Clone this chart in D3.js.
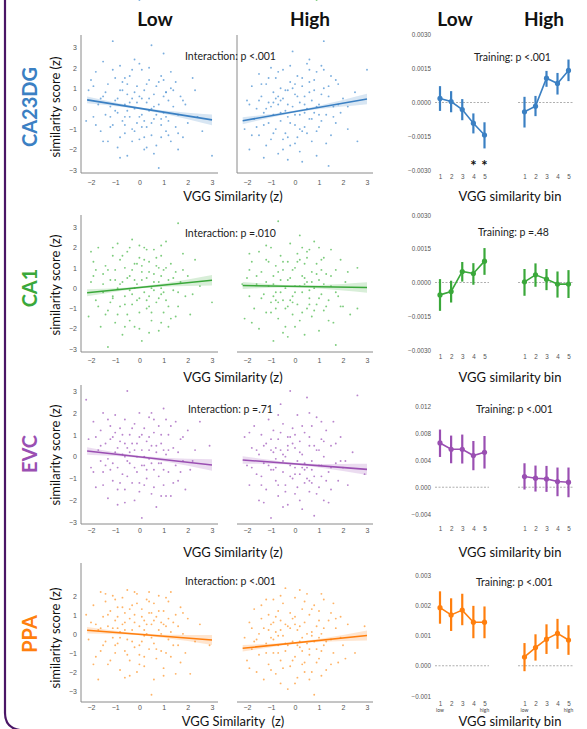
<!doctype html>
<meta charset="utf-8">
<style>
  body { margin: 0; background: #fff; }
  svg text { font-family: Lato, "Open Sans", sans-serif; }
  .tick text { font-family: "Liberation Sans", Arial, sans-serif; fill: #555; }
</style>
<svg id="fig"></svg>
<script src="https://d3js.org/d3.v7.min.js"></script>
<script>
// ---- data ----
const regions = ["CA23DG", "CA1", "EVC", "PPA"];
const regionColors = ["#3b80c3", "#3aa83a", "#9a4fb2", "#ff7f0e"];
const pointColors = ["#5a9ad6", "#5cbf5c", "#a866c0", "#ffa040"];
const interactionP = ["Interaction: p <.001", "Interaction: p =.010", "Interaction: p =.71", "Interaction: p <.001"];
const trainingP = ["Training: p <.001", "Training: p =.48", "Training: p <.001", "Training: p <.001"];
const groups = ["Low", "High"];
const scatterTicksX = [-2, -1, 0, 1, 2, 3];
const scatterTicksY = [[-3,-2,-1,0,1,2,3], [-3,-2,-1,0,1,2,3], [-3,-2,-1,0,1,2,3], [-3,-2,-1,0,1,2]];
const rightTicks = [
  [-0.003, -0.0015, 0, 0.0015, 0.003],
  [-0.003, -0.0015, 0, 0.0015, 0.003],
  [-0.004, 0, 0.004, 0.008, 0.012],
  [-0.001, 0, 0.001, 0.002, 0.003]
];
const rightFormats = [".4f", ".4f", ".3f", ".3f"];
const bins = [1, 2, 3, 4, 5];

// regression fits [x0, y0, x1, y1]
const fitLow  = [[-2.16, 0.43, 3, -0.55], [-2.16, -0.23, 3, 0.39], [-2.16, 0.26, 3, -0.38], [-2.16, 0.19, 3, -0.32]];
const fitHigh = [[-2.18, -0.59, 3, 0.47], [-2.18, 0.13, 3, 0.03], [-2.18, -0.15, 3, -0.58], [-2.18, -0.76, 3, -0.09]];
const ciX    = [-2.2, -1.5, -1, -0.5, 0, 0.5, 1, 1.5, 2, 2.5, 3];
const ciHalf = [0.17, 0.12, 0.09, 0.06, 0.05, 0.06, 0.08, 0.12, 0.16, 0.21, 0.26];

// binned means and error bars
const binMeanLow = [
  [0.00018, 0.00004, -0.00031, -0.00091, -0.00143],
  [-0.00055, -0.0004, 0.00049, 0.0004, 0.00095],
  [0.00654, 0.00561, 0.00561, 0.00468, 0.00517],
  [0.00192, 0.00168, 0.00184, 0.00144, 0.00144]
];
const binLoLow = [
  [-0.00037, -0.00043, -0.00078, -0.00136, -0.00202],
  [-0.00126, -0.00089, 0.00004, -0.0001, 0.00034],
  [0.00447, 0.00354, 0.0035, 0.00251, 0.00276],
  [0.00139, 0.00115, 0.00134, 0.00091, 0.00091]
];
const binHiLow = [
  [0.00072, 0.0005, 0.00015, -0.00048, -0.00087],
  [0.00015, 0.00008, 0.00091, 0.00086, 0.00153],
  [0.00852, 0.00763, 0.00778, 0.00683, 0.00757],
  [0.00246, 0.00223, 0.00238, 0.00198, 0.00196]
];
const binMeanHigh = [
  [-0.00041, -0.00016, 0.00107, 0.00084, 0.00141],
  [0.00003, 0.00034, 0.00015, -0.00007, -0.00007],
  [0.00158, 0.00133, 0.00123, 0.00084, 0.00074],
  [0.00029, 0.0006, 0.00088, 0.00107, 0.00085]
];
const binLoHigh = [
  [-0.0011, -0.0006, 0.00069, 0.00035, 0.00094],
  [-0.00059, -0.00019, -0.00034, -0.00067, -0.00069],
  [-0.00034, -0.00064, -0.00069, -0.00133, -0.00148],
  [-0.00018, 0.00017, 0.00039, 0.00056, 0.00036]
];
const binHiHigh = [
  [0.00025, 0.00029, 0.00139, 0.0013, 0.00189],
  [0.0006, 0.00085, 0.0006, 0.00049, 0.00055],
  [0.00354, 0.0032, 0.00315, 0.00291, 0.00291],
  [0.00075, 0.00104, 0.00137, 0.00155, 0.00134]
];
const sigBinsLow = [[4, 5], [], [], []];

// scatter clouds, "x y" pairs (outer spread)
const ptsLow = [
"-2.1 0.9,-1.9 -0.4,-1.8 1.8,-1.7 0.2,-1.6 -1.1,-1.5 2.3,-1.5 0.6,-1.4 -0.3,-1.3 1.2,-1.3 -1.6,-1.2 0.1,-1.1 3.3,-1.1 -0.8,-1.0 1.5,-1.0 0.4,-0.9 -0.2,-0.9 -1.9,-0.8 0.9,-0.8 2.1,-0.7 -0.6,-0.7 1.3,-0.6 0.2,-0.6 -1.2,-0.5 0.7,-0.5 -2.3,-0.4 1.6,-0.4 -0.4,-0.3 0.5,-0.3 -1.0,-0.2 2.4,-0.2 0.0,-0.1 -0.7,-0.1 1.1,0.0 -1.5,0.0 0.6,0.1 1.9,0.1 -0.3,0.2 0.9,0.2 -2.0,0.3 0.3,0.3 -0.9,0.4 1.4,0.4 -0.1,0.5 3.1,0.5 -1.3,0.6 0.7,0.6 -0.5,0.7 1.1,0.7 -1.8,0.8 -2.9,0.8 0.2,0.9 -0.8,0.9 1.6,1.0 2.7,1.0 -0.2,1.1 -1.1,1.1 0.8,1.2 -0.6,1.3 1.0,1.3 -1.6,1.4 0.1,1.5 -0.9,1.5 1.3,1.6 -0.3,1.7 0.6,1.8 -1.4,1.9 0.2,2.0 -0.7,2.2 1.5,2.4 -0.4,2.6 -1.1,3.0 -2.3,-2.2 -0.6,-1.9 1.1,0.0 2.2,0.5 0.0,-0.5 -0.1,0.2 -1.4,-1.2 -0.9,1.2 0.4",
"-2.1 -1.4,-2.0 0.3,-1.9 1.3,-1.8 -0.6,-1.7 2.0,-1.6 -1.9,-1.5 0.7,-1.5 -0.2,-1.4 1.1,-1.3 -1.1,-1.3 -2.9,-1.2 0.4,-1.1 1.6,-1.1 -0.5,-1.0 -1.7,-1.0 0.9,-0.9 0.0,-0.9 2.2,-0.8 -0.9,-0.8 1.4,-0.7 0.3,-0.7 -2.3,-0.6 1.0,-0.6 -0.4,-0.5 1.8,-0.5 -1.3,-0.4 0.6,-0.4 -0.1,-0.3 2.4,-0.3 -0.8,-0.2 1.2,-0.2 -1.9,-0.1 0.2,-0.1 -0.6,0.0 1.5,0.0 -1.2,0.1 0.8,0.1 -2.6,0.2 -0.2,0.2 2.0,0.3 0.5,0.3 -1.0,0.4 1.3,0.4 -0.4,0.5 0.0,0.5 -1.6,0.6 1.9,0.6 0.7,0.7 -0.7,0.7 1.1,0.8 -2.1,0.8 0.3,0.9 1.6,0.9 -0.3,1.0 -1.2,1.0 0.9,1.1 2.3,1.1 -0.6,1.2 0.4,1.3 -1.5,1.3 1.2,1.4 -0.1,1.5 0.8,1.6 3.2,1.6 -0.9,1.7 0.3,1.8 1.7,1.9 -0.4,2.0 0.6,2.1 -1.3,2.3 1.4,2.5 0.1,3.0 -0.7,-1.8 0.9,-0.2 0.4,0.4 -2.2,1.2 -1.9,-1.4 -1.3,0.9 0.0,0.0 2.1",
"-2.2 2.6,-2.1 0.8,-2.0 -0.5,-1.9 1.6,-1.8 -1.4,-1.7 0.3,-1.6 1.2,-1.5 -0.7,-1.5 2.0,-1.4 0.6,-1.3 -1.9,-1.3 -0.1,-1.2 1.4,-1.1 0.9,-1.1 -1.1,-1.0 0.2,-1.0 1.9,-0.9 -0.5,-0.9 -2.2,-0.8 0.7,-0.8 1.3,-0.7 -0.8,-0.7 0.1,-0.6 1.7,-0.6 -1.5,-0.5 3.0,-0.5 0.4,-0.4 -0.3,-0.4 1.0,-0.3 -1.2,-0.3 0.6,-0.2 -2.0,-0.2 1.5,-0.1 0.0,-0.1 -0.7,0.0 0.9,0.0 -1.6,0.1 -2.8,0.1 0.3,0.2 1.3,0.2 -0.4,0.3 -1.0,0.3 0.7,0.4 1.8,0.4 -0.1,0.5 -1.7,0.5 0.5,0.6 1.1,0.6 -0.6,0.7 -2.3,0.7 0.2,0.8 1.4,0.8 -0.9,0.9 0.6,0.9 -0.3,1.0 2.2,1.0 -1.3,1.1 0.1,1.2 -0.7,1.2 1.0,1.3 -1.8,1.4 0.4,1.5 -0.4,1.5 1.6,1.6 -1.1,1.7 0.8,1.8 -0.2,1.9 -1.5,2.0 1.2,2.1 -0.6,2.3 0.3,2.5 1.6,2.9 0.5,-1.6 -0.2,-0.6 0.0,0.2 -1.3,1.1 1.7,-1.2 -0.6,0.5 2.0",
"-2.2 1.0,-2.1 -0.3,-2.0 0.6,-1.9 1.5,-1.8 -1.2,-1.7 -2.4,-1.7 0.2,-1.6 2.2,-1.5 0.9,-1.5 -0.6,-1.4 1.7,-1.3 -1.6,-1.3 0.4,-1.2 1.2,-1.1 -0.2,-1.1 2.0,-1.0 -1.0,-1.0 0.7,-0.9 1.4,-0.9 -0.5,-0.8 0.1,-0.8 -1.9,-0.7 1.9,-0.7 0.5,-0.6 -0.9,-0.6 1.1,-0.5 2.3,-0.5 -0.3,-0.4 0.8,-0.4 -1.4,-0.3 1.5,-0.3 0.2,-0.2 -0.7,-0.2 1.0,-0.1 2.1,-0.1 -2.0,0.0 0.4,0.0 -1.1,0.1 1.3,0.1 -0.4,0.2 0.7,0.2 -1.7,0.3 1.8,0.3 0.0,0.4 -0.8,0.4 1.1,0.5 -3.2,0.5 0.5,0.6 1.6,0.6 -0.5,0.7 -1.3,0.7 0.9,0.8 0.2,0.8 2.0,0.9 -0.9,1.0 1.2,1.0 -1.8,1.1 0.4,1.2 -0.3,1.2 1.7,1.3 -1.2,1.4 0.6,1.5 -2.1,1.5 1.0,1.6 -0.6,1.7 1.4,1.8 0.0,1.9 -1.0,2.0 0.8,2.1 -2.1,2.3 -0.4,2.5 0.5,2.9 -0.6,-1.6 -0.9,-0.4 -2.2,0.9 0.6,1.3 2.2,-1.0 1.8,0.2 -0.1"
];
const ptsHigh = [
"-2.1 -1.0,-2.0 0.4,-1.9 -2.0,-1.8 1.1,-1.7 -0.5,-1.6 0.0,-1.5 1.7,-1.5 -1.3,-1.4 0.6,-1.3 -0.2,-1.3 -2.4,-1.2 1.2,-1.1 -0.7,-1.1 0.3,-1.0 2.0,-1.0 -1.5,-0.9 0.8,-0.9 -0.3,-0.8 1.5,-0.8 -1.0,-0.7 0.2,-0.7 -2.2,-0.6 1.0,-0.6 -0.6,-0.5 0.5,-0.5 1.9,-0.4 -0.1,-0.4 -1.2,-0.3 0.9,-0.3 -0.4,-0.2 1.3,-0.2 -1.8,-0.1 2.8,-0.1 0.1,0.0 -0.8,0.0 0.7,0.1 1.6,0.1 -1.4,0.2 0.3,0.2 -0.3,0.3 1.1,0.3 -2.6,0.4 0.6,0.4 -0.9,0.5 2.2,0.5 0.0,0.6 -0.5,0.6 1.3,0.7 0.4,0.7 -1.6,0.8 0.9,0.8 -0.2,0.9 1.8,0.9 -1.1,1.0 0.2,1.1 -0.6,1.2 3.3,1.2 1.0,1.3 -0.3,1.4 -2.8,1.4 0.6,1.5 1.6,1.5 -1.3,1.6 0.1,1.7 -0.7,1.8 1.2,1.9 -0.2,2.0 0.5,2.2 -1.0,2.5 0.8,2.6 -1.6,3.0 1.9,-1.6 -0.9,-0.3 -2.5,0.6 2.4,1.1 2.1,-1.2 0.0,0.0 1.2,0.3 -1.1,-0.7 0.6",
"-2.1 -1.5,-2.0 0.5,-1.9 -0.4,-1.8 1.3,-1.7 -1.0,-1.6 0.2,-1.5 1.8,-1.5 -2.0,-1.4 0.8,-1.3 -0.3,-1.2 1.4,-1.2 -1.2,-1.1 0.1,-1.0 2.0,-1.0 -0.7,-0.9 0.6,-0.9 -2.6,-0.8 1.1,-0.8 -0.2,-0.7 3.3,-0.7 -1.5,-0.6 0.4,-0.6 1.6,-0.5 -0.6,-0.5 0.9,-0.4 -1.9,-0.4 0.0,-0.3 1.3,-0.3 -0.9,-0.2 2.2,-0.2 0.5,-0.1 -0.4,-0.1 -1.3,0.0 1.0,0.0 0.1,0.1 -0.8,0.1 1.7,0.2 2.6,0.2 -1.6,0.3 0.6,0.3 -0.2,0.4 1.2,0.4 -2.3,0.5 0.3,0.5 -1.0,0.6 1.9,0.6 -0.5,0.7 0.8,0.7 -1.4,0.8 0.0,0.8 2.3,0.9 -0.8,0.9 1.2,1.0 0.4,1.0 -2.1,1.1 -0.3,1.2 1.5,1.2 -1.1,1.3 0.7,1.4 -0.6,1.5 1.9,1.5 0.1,1.6 -1.7,1.7 -2.8,1.7 0.9,1.8 -0.4,1.9 1.4,2.0 -0.9,2.1 0.3,2.3 -1.3,2.6 1.0,2.6 -1.0,-1.9 0.9,-0.8 -1.0,0.3 2.0,1.1 0.9,-0.3 -2.4,0.6 -0.1",
"-2.1 0.9,-2.0 -0.4,-1.9 -1.3,-1.8 0.4,-1.7 1.4,-1.6 -0.8,-1.5 0.1,-1.5 -2.0,-1.4 1.0,-1.3 -0.3,-1.2 -1.5,-1.2 0.6,-1.1 1.7,-1.0 -0.6,-1.0 -2.8,-0.9 0.2,-0.9 1.2,-0.8 -1.1,-0.8 -0.1,-0.7 0.8,-0.7 -1.8,-0.6 2.4,-0.6 0.3,-0.5 -0.7,-0.5 1.5,-0.4 -1.3,-0.4 0.0,-0.3 0.9,-0.3 -2.2,-0.2 3.0,-0.2 -0.4,-0.1 1.3,-0.1 -1.0,0.0 0.4,0.0 -1.7,0.1 -0.2,0.1 1.9,0.2 -0.8,0.2 0.7,0.3 -2.4,0.3 0.1,0.4 1.1,0.4 -1.2,0.5 2.7,0.5 -0.5,0.6 0.5,0.6 -1.6,0.7 1.4,0.7 -0.2,0.8 -2.7,0.8 -0.9,0.9 0.3,0.9 1.8,1.0 -1.4,1.0 -0.4,1.1 0.8,1.2 -2.0,1.2 0.0,1.3 1.2,1.4 -0.7,1.5 0.5,1.5 -1.5,1.6 1.6,1.7 -0.3,1.8 -1.1,1.9 0.9,2.0 -0.5,2.2 -1.3,2.4 0.2,2.6 2.8,2.9 -0.8,-1.4 -0.9,-0.3 0.5,0.4 -0.6,1.1 -0.9,0.0 1.0,-0.8 -0.5,0.6 -1.1",
"-2.1 -0.2,-2.0 -1.4,-1.9 0.6,-1.8 -0.8,-1.7 1.3,-1.6 -2.0,-1.5 0.0,-1.5 -1.1,-1.4 1.5,-1.3 0.3,-1.3 -2.4,-1.2 -0.5,-1.1 1.0,-1.1 -1.6,-1.0 0.5,-1.0 -0.2,-0.9 1.8,-0.9 -1.0,-0.8 0.1,-0.8 -2.1,-0.7 1.2,-0.7 -0.6,-0.6 0.7,-0.6 -1.4,-0.5 1.6,-0.5 -0.1,-0.4 2.4,-0.4 -0.9,-0.3 -2.9,-0.3 0.4,-0.2 1.1,-0.2 -1.7,-0.1 -0.4,-0.1 0.8,0.0 1.9,0.0 -1.2,0.1 0.2,0.1 -2.3,0.2 2.3,0.2 -0.7,0.3 1.3,0.3 -0.2,0.4 0.6,0.4 -1.5,0.5 2.1,0.5 -0.5,0.6 -1.1,0.6 1.0,0.7 0.1,0.7 -2.0,0.8 -3.2,0.8 1.5,0.9 -0.8,0.9 0.4,1.0 1.2,1.0 -1.3,1.1 0.0,1.2 -0.6,1.2 1.8,1.3 -1.9,1.4 0.7,1.5 -0.3,1.5 1.1,1.6 -1.0,1.7 0.3,1.8 -1.5,1.9 0.9,2.0 -0.6,2.2 0.5,2.5 -1.0,2.9 0.4,-1.7 -0.4,-0.6 -2.6,0.3 -0.9,1.1 2.1,-0.9 0.6,0.0 0.5"
];
// denser core of each cloud
const coreLow = [
"-1.4 0.8,-1.2 -0.4,-1.0 -0.1,-0.9 0.5,-0.8 -1.4,-0.7 0.9,-0.6 -0.8,-0.5 1.2,-0.4 0.3,-0.3 -1.6,-0.2 0.8,-0.1 0.3,0.0 -0.4,0.1 0.5,0.2 -0.6,0.3 1.2,0.4 0.5,0.5 -0.7,0.6 0.1,0.7 -0.3,0.8 1.3,0.9 -1.4,1.0 0.6,1.1 -0.4,1.2 -1.3,1.4 0.9,1.6 -1.2,1.8 0.4,-1.6 0.5,-1.8 -0.8,-2.0 1.4,-1.1 1.9,-0.3 1.9,0.4 2.0,1.3 1.8,-0.8 -2.4,0.6 -2.2,1.6 -2.0,-1.5 -1.6,2.3 0.9,-0.6 1.5,0.1 -0.9,-0.2 -1.1,0.3 -1.9,0.9 -0.5,1.0 1.4,-0.6 -0.4,1.1 0.8,0.0",
"-1.5 0.2,-1.3 0.9,-1.2 -0.7,-1.0 0.4,-0.9 -1.3,-0.8 0.2,-0.7 1.6,-0.6 -0.8,-0.5 0.5,-0.4 -1.6,-0.3 0.9,-0.2 0.0,-0.1 1.2,0.0 -0.5,0.1 0.4,0.2 1.4,0.3 -0.6,0.4 0.8,0.5 -1.2,0.6 0.3,0.7 1.5,0.8 -0.5,0.9 0.6,1.0 -0.2,1.1 1.0,1.2 -0.9,1.4 0.5,1.6 -0.2,1.8 0.9,-1.7 -0.9,-1.9 0.6,-1.1 2.0,-0.4 2.0,0.3 1.9,0.9 2.1,-0.6 -1.9,0.0 -2.0,0.9 -1.7,1.5 -1.4,2.2 -0.3,-2.0 1.8,-1.1 -0.4,0.1 1.1,0.6 -0.1,-0.3 -0.3,0.8 1.0,0.4 -0.9",
"-1.6 0.5,-1.4 -0.4,-1.2 0.8,-1.1 -0.3,-1.0 1.1,-0.9 0.4,-0.8 -1.2,-0.7 1.0,-0.6 0.6,-0.5 -0.9,-0.4 0.2,-0.3 1.3,-0.2 -0.5,-0.1 0.6,0.0 -1.2,0.1 1.0,0.2 0.0,0.3 -0.6,0.4 0.9,0.5 -0.3,0.6 -1.4,0.7 0.5,0.8 -0.3,0.9 1.0,1.0 -0.6,1.1 -1.8,1.2 0.3,1.4 -1.2,1.6 0.2,1.8 0.9,-1.8 0.9,-1.9 -0.7,-1.3 1.7,-0.6 -2.1,0.0 2.0,0.6 1.7,0.9 -1.8,1.3 1.4,1.7 -0.7,2.2 -0.2,-1.5 -1.3,-0.9 -1.5,-0.2 0.3,0.4 0.3,1.0 0.3,-0.5 -0.2,0.1 -0.4",
"-1.6 0.3,-1.4 -0.4,-1.3 1.0,-1.1 0.3,-1.0 -0.6,-0.9 0.9,-0.8 -0.2,-0.7 1.4,-0.6 0.2,-0.5 -1.1,-0.4 1.3,-0.3 -0.4,-0.2 0.6,-0.1 1.6,0.0 -0.6,0.1 0.9,0.2 -1.2,0.3 0.5,0.4 1.7,0.5 -0.2,0.6 0.7,0.7 -0.8,0.8 1.2,0.9 0.0,1.0 0.5,1.1 -1.0,1.2 0.8,1.4 -0.6,1.6 0.4,1.8 1.1,-1.8 0.5,-1.9 -1.6,-1.2 -1.4,-0.6 -2.3,0.0 -1.6,0.6 -2.4,1.0 -2.2,1.7 -1.5,-1.4 2.1,-0.2 2.2,0.4 2.2,1.1 1.9,-0.9 0.3,0.2 0.2,0.5 1.1,-0.6 0.6,1.3 0.1"
];
const coreHigh = [
"-1.5 0.4,-1.3 -0.8,-1.1 1.5,-1.0 0.1,-0.9 -1.2,-0.8 0.5,-0.7 1.8,-0.6 -0.2,-0.5 -1.5,-0.4 0.9,-0.3 0.2,-0.2 -0.7,-0.1 1.0,0.0 -0.3,0.1 0.6,0.2 -1.0,0.3 1.5,0.4 0.2,0.5 -1.2,0.6 0.8,0.7 -0.5,0.8 1.4,0.9 0.1,1.0 -0.9,1.1 0.7,1.3 -1.7,1.4 1.1,1.6 -0.4,1.8 0.2,-1.8 -1.3,-1.9 0.2,-1.2 -1.8,-0.5 -2.0,0.2 -2.1,0.9 -2.3,1.2 1.9,0.6 1.9,-0.2 2.1,-1.4 1.2,2.2 0.1,1.7 1.4,-0.9 0.3,0.0 -1.7,-0.6 0.4,-0.3 -1.4,0.4 -0.2,1.0 -0.3",
"-1.6 0.6,-1.4 -0.5,-1.2 0.3,-1.1 1.3,-1.0 -1.2,-0.9 0.2,-0.8 -0.6,-0.7 0.8,-0.6 -0.2,-0.5 1.3,-0.4 -1.0,-0.3 0.4,-0.2 -0.6,-0.1 0.9,0.0 -0.2,0.1 1.3,0.2 0.1,0.3 -1.2,0.4 0.5,0.5 1.5,0.6 -0.8,0.7 0.3,0.8 -1.1,0.9 0.7,1.0 -0.5,1.1 1.4,1.2 0.2,1.3 -0.9,1.5 0.6,1.7 -0.2,1.9 -0.9,-1.8 -1.7,-1.9 1.7,-1.2 2.1,-0.5 -2.2,0.0 -1.9,0.5 1.8,1.0 2.0,1.4 -1.6,-2.2 0.2,2.2 0.8,-0.9 -0.4,0.2 1.4,-0.1 -0.7,-0.7 -0.7,0.4 0.2,0.9",
"-1.6 0.3,-1.4 -1.3,-1.3 0.5,-1.1 -0.4,-1.0 0.8,-0.9 -0.6,-0.8 0.4,-0.7 -1.3,-0.6 1.1,-0.5 -0.2,-0.4 -1.6,-0.3 0.3,-0.2 -0.9,-0.1 0.6,0.0 -0.5,0.1 -1.4,0.2 0.2,0.3 1.4,0.4 -0.3,0.5 -1.0,0.6 0.9,0.7 -0.6,0.8 0.5,0.9 -1.7,1.0 0.3,1.1 -0.4,1.2 0.7,1.3 -1.1,1.5 -0.5,1.7 0.6,1.9 -0.2,-1.8 -0.5,-1.9 1.1,-1.3 -2.1,-0.5 -2.3,0.2 -2.0,0.6 2.0,1.1 1.6,-0.7 1.9,1.4 -2.1,2.1 -0.2,0.0 -0.8,-0.5 0.1,0.3 -0.5,0.7 -1.2,-1.0 0.3,-0.2 0.9",
"-1.6 -0.3,-1.4 0.8,-1.2 -1.0,-1.1 0.2,-1.0 -1.9,-0.9 -0.3,-0.8 0.9,-0.7 -1.0,-0.6 0.2,-0.5 -1.8,-0.4 0.5,-0.3 -0.6,-0.2 0.3,-0.1 -1.4,0.0 0.9,0.1 -0.6,0.2 0.4,0.3 -1.6,0.4 1.7,0.5 0.0,0.6 -0.8,0.7 1.3,0.8 -0.4,0.9 -1.5,1.0 0.7,1.1 -0.9,1.2 0.3,1.3 -0.4,1.5 -1.6,1.7 0.8,1.9 -0.2,-1.8 0.3,-1.9 -1.8,-1.2 1.8,-0.6 2.0,0.0 -2.6,0.6 -2.4,1.1 -2.2,1.6 1.6,2.1 -1.3,-0.4 -0.5,0.2 -0.4,0.7 -0.1,-0.7 -0.1,1.0 -0.2,0.4 -2.0"
];

// ---- layout ----
const layout = [
  { yTop: 35,  xAxisY: 173, yAt: [170, 47.3],  xTickBase: 185,   xLabelBase: 201,   interBase: 60,  rRange: [170.7, 34.3], binBase: 179,   trainX: 474, trainBase: 61,  regionY: 107, yLabelY: 107, highAxis: true },
  { yTop: 215, xAxisY: 352, yAt: [349, 227.3], xTickBase: 363,   xLabelBase: 382,   interBase: 237, rRange: [350, 215],    binBase: 359,   trainX: 478, trainBase: 236, regionY: 288, yLabelY: 285, highAxis: false },
  { yTop: 385, xAxisY: 524, yAt: [522.3, 391], xTickBase: 533.5, xLabelBase: 557,   interBase: 413, rRange: [514.3, 406],  binBase: 531.5, trainX: 476, trainBase: 413, regionY: 454, yLabelY: 455, highAxis: false },
  { yTop: 563, xAxisY: 702, yAt: [691, 576.7], xTickBase: 710.5, xLabelBase: 725.5, interBase: 585, rRange: [696, 575],    binBase: 706.5, trainX: 476, trainBase: 586, regionY: 634, yLabelY: 638, highAxis: false }
];
const panelX = [{ axis: 81, right: 218, at: [91, 212] }, { axis: 237, right: 373, at: [247, 367] }];
const binX = [[440, 484.5], [524.5, 568.5]];
const zeroLine = [[435, 489], [518, 573]];

const W = 587, H = 729;
const svg = d3.select("#fig").attr("width", W).attr("height", H);

// border on the left
svg.append("path")
  .attr("d", "M5,0 V713 Q5,728 20,730")
  .attr("fill", "none").attr("stroke", "#4a1666").attr("stroke-width", 2.2);

// column headers
[["Low", 155], ["High", 310], ["Low", 455], ["High", 544]].forEach(h => {
  svg.append("text").attr("x", h[1]).attr("y", 26).attr("text-anchor", "middle")
    .attr("font-size", 19).attr("font-weight", 700).attr("fill", "#111").text(h[0]);
});

function parsePts(s) {
  return s.split(",").map(p => p.trim().split(" ").map(Number));
}

regions.forEach((reg, r) => {
  const L = layout[r];
  const col = regionColors[r];
  const y = d3.scaleLinear().domain([-3, 3]).range(L.yAt);

  // region label + y label
  svg.append("text")
    .attr("transform", `translate(36.5,${L.regionY}) rotate(-90)`)
    .attr("text-anchor", "middle").attr("font-size", 20).attr("font-weight", 700)
    .attr("fill", col).text(reg);
  svg.append("text")
    .attr("transform", `translate(60,${L.yLabelY}) rotate(-90)`)
    .attr("text-anchor", "middle").attr("font-size", 13).attr("fill", "#111")
    .text("similarity score (z)");

  groups.forEach((g, gi) => {
    const P = panelX[gi];
    const x = d3.scaleLinear().domain([-2, 3]).range(P.at);
    const pg = svg.append("g");

    // points
    const pts = gi === 0 ? parsePts(ptsLow[r]).concat(parsePts(coreLow[r]))
                         : parsePts(ptsHigh[r]).concat(parsePts(coreHigh[r]));
    pg.selectAll("circle.pt").data(pts).enter().append("circle")
      .attr("class", "pt")
      .attr("cx", d => x(d[0])).attr("cy", d => y(d[1]))
      .attr("r", 0.95).attr("fill", pointColors[r]).attr("opacity", 0.8);

    // CI band + fit line
    const f = gi === 0 ? fitLow[r] : fitHigh[r];
    const slope = (f[3] - f[1]) / (f[2] - f[0]);
    const fy = xv => f[1] + slope * (xv - f[0]);
    const band = ciX.map((xv, i) => [Math.max(xv, f[0]), ciHalf[i]]);
    pg.append("path")
      .attr("d", d3.area().x(d => x(d[0])).y0(d => y(fy(d[0]) - d[1])).y1(d => y(fy(d[0]) + d[1]))(band))
      .attr("fill", col).attr("opacity", 0.2);
    pg.append("line")
      .attr("x1", x(f[0])).attr("y1", y(f[1])).attr("x2", x(f[2])).attr("y2", y(f[3]))
      .attr("stroke", col).attr("stroke-width", 1.6);

    // axes
    pg.append("line").attr("x1", P.axis).attr("x2", P.right)
      .attr("y1", L.xAxisY).attr("y2", L.xAxisY).attr("stroke", "#8a8a8a").attr("stroke-width", 1);
    if (gi === 0 || L.highAxis) {
      pg.append("line").attr("x1", P.axis).attr("x2", P.axis)
        .attr("y1", L.yTop).attr("y2", L.xAxisY).attr("stroke", "#8a8a8a").attr("stroke-width", 1);
    }
    const xa = pg.append("g").attr("transform", `translate(0,${L.xAxisY})`)
      .call(d3.axisBottom(x).tickValues(scatterTicksX).tickFormat(d3.format("d"))
        .tickSize(0).tickPadding(L.xTickBase - L.xAxisY - 5));
    xa.select(".domain").remove();
    xa.selectAll("text").attr("font-size", 7);
    if (gi === 0) {
      const ya = pg.append("g").attr("transform", `translate(${P.axis - 4},0)`)
        .call(d3.axisLeft(y).tickValues(scatterTicksY[r]).tickFormat(d3.format("d")).tickSize(0).tickPadding(0));
      ya.select(".domain").remove();
      ya.selectAll("text").attr("font-size", 7);
    }
  });

  // interaction text + x label
  svg.append("text").attr("x", r === 2 ? 188 : 185).attr("y", L.interBase)
    .attr("font-size", 10.5).attr("fill", "#222").text(interactionP[r]);
  svg.append("text").attr("x", 233).attr("y", L.xLabelBase).attr("text-anchor", "middle")
    .attr("font-size", 13).attr("fill", "#111").style("white-space", "pre")
    .text(r === 3 ? "VGG Similarity  (z)" : "VGG Similarity (z)");

  // ---- right binned panel ----
  const ry = d3.scaleLinear().domain([rightTicks[r][0], rightTicks[r][rightTicks[r].length - 1]]).range(L.rRange);
  const rg = svg.append("g");
  const ya = rg.append("g").attr("transform", "translate(431,0)")
    .call(d3.axisLeft(ry).tickValues(rightTicks[r]).tickFormat(d3.format(rightFormats[r])).tickSize(0).tickPadding(0));
  ya.select(".domain").remove();
  ya.selectAll("text").attr("font-size", 6.3);

  groups.forEach((g, gi) => {
    const bx = d3.scalePoint().domain(bins).range(binX[gi]);
    const mean = gi === 0 ? binMeanLow[r] : binMeanHigh[r];
    const lo = gi === 0 ? binLoLow[r] : binLoHigh[r];
    const hi = gi === 0 ? binHiLow[r] : binHiHigh[r];
    const d = bins.map((b, i) => ({ b, m: mean[i], lo: lo[i], hi: hi[i] }));

    rg.append("line").attr("x1", zeroLine[gi][0]).attr("x2", zeroLine[gi][1])
      .attr("y1", ry(0)).attr("y2", ry(0))
      .attr("stroke", "#9a9a9a").attr("stroke-width", 0.8).attr("stroke-dasharray", "2,1.5");

    rg.selectAll(null).data(d).enter().append("line")
      .attr("x1", e => bx(e.b)).attr("x2", e => bx(e.b))
      .attr("y1", e => ry(e.lo)).attr("y2", e => ry(e.hi))
      .attr("stroke", col).attr("stroke-width", 2.2);
    rg.append("path")
      .attr("d", d3.line().x(e => bx(e.b)).y(e => ry(e.m))(d))
      .attr("fill", "none").attr("stroke", col).attr("stroke-width", 1.6);
    rg.selectAll(null).data(d).enter().append("circle")
      .attr("cx", e => bx(e.b)).attr("cy", e => ry(e.m)).attr("r", 2.6).attr("fill", col);

    const xa = rg.append("g").attr("transform", `translate(0,${L.binBase - 4.5})`)
      .call(d3.axisBottom(bx).tickSize(0).tickPadding(0));
    xa.select(".domain").remove();
    xa.selectAll("text").attr("font-size", 6.3);

    if (r === 3) {
      rg.append("text").attr("x", bx(1)).attr("y", 712).attr("text-anchor", "middle")
        .attr("font-size", 5).attr("fill", "#444").attr("font-family", "Liberation Sans, Arial").text("low");
      rg.append("text").attr("x", bx(5)).attr("y", 712).attr("text-anchor", "middle")
        .attr("font-size", 5).attr("fill", "#444").attr("font-family", "Liberation Sans, Arial").text("high");
    }
    if (gi === 0) {
      sigBinsLow[r].forEach(b => {
        rg.append("text").attr("x", bx(b)).attr("y", L.rRange[0] + 0.5).attr("text-anchor", "middle")
          .attr("font-size", 15).attr("font-weight", 700).attr("fill", "#111").text("*");
      });
    }
  });

  svg.append("text").attr("x", L.trainX).attr("y", L.trainBase)
    .attr("font-size", 10.5).attr("fill", "#222").text(trainingP[r]);
  svg.append("text").attr("x", 510).attr("y", L.xLabelBase).attr("text-anchor", "middle")
    .attr("font-size", 13).attr("fill", "#111").text("VGG similarity bin");
});
</script>
